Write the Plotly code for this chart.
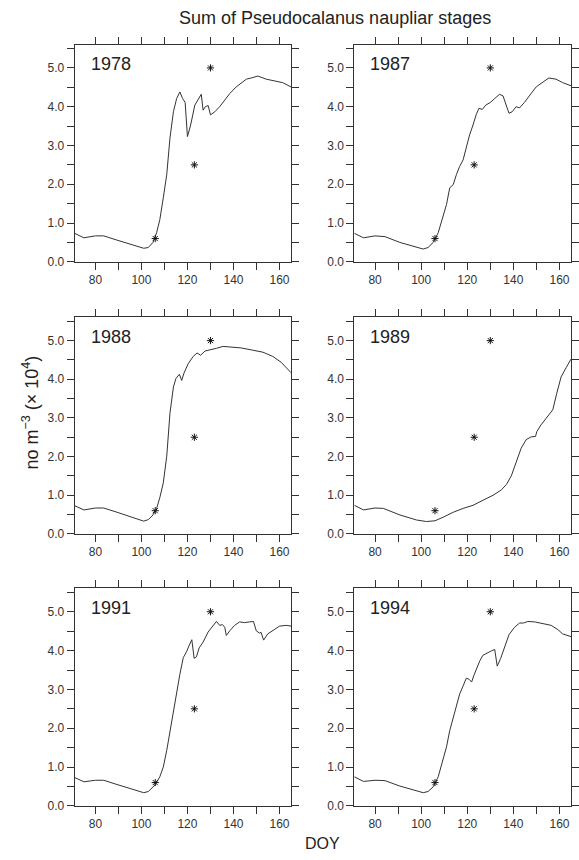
import plotly.graph_objects as go

# ---------------- data ----------------
years = ["1978", "1987", "1988", "1989", "1991", "1994"]

doy_1978 = [71, 75, 80, 83.6, 89.4, 95, 101, 103, 105, 106.6, 108, 109.5, 111, 112.4, 113.9, 115.3, 116.7, 117.9, 119, 120,
            121.4, 123.2, 124.7, 126, 126.8, 127.8, 129, 130, 131.9, 134, 136.2, 138.4, 141.2, 145.6, 147.7, 150.6, 154.2,
            158.5, 161.4, 165]
val_1978 = [0.735, 0.62, 0.67, 0.67, 0.56, 0.45, 0.35, 0.37, 0.5, 0.75, 1.09, 1.65, 2.25, 3.19, 3.87, 4.21, 4.38, 4.21, 4.11,
            3.23, 3.53, 4.04, 4.21, 4.32, 3.91, 4.0, 4.03, 3.79, 3.87, 4.0, 4.17, 4.34, 4.51, 4.71, 4.74, 4.79, 4.71, 4.66,
            4.62, 4.51]

doy_1987 = [71, 75, 80, 84.3, 90.8, 98, 100.9, 103, 105.2, 107.4, 109.5, 111, 112.4, 113.9, 115.3, 116.7, 118.2, 119.6, 121,
            122.5, 123.9, 125.1, 126.5, 128, 130, 131.9, 134, 135.5, 136.9, 138.1, 139.5, 141.2, 142.7, 144.8, 147.7, 149.9,
            152, 155.4, 158.5, 161.4, 165]
val_1987 = [0.735, 0.62, 0.67, 0.65, 0.5, 0.37, 0.33, 0.37, 0.5, 0.75, 1.14, 1.48, 1.91, 1.99, 2.25, 2.46, 2.63, 2.97, 3.27,
            3.53, 3.8, 3.96, 3.93, 4.04, 4.11, 4.21, 4.32, 4.28, 4.04, 3.83, 3.87, 4.0, 3.97, 4.11, 4.34, 4.51, 4.6, 4.74,
            4.71, 4.62, 4.54]

doy_1988 = [71, 75, 80, 83.6, 89.4, 95, 101, 103, 105, 106.6, 108, 109.5, 111, 112.4, 113.9, 115, 116.5, 117.5, 118.5, 120.3,
            122.5, 124.2, 125.7, 127.6, 130, 132.6, 135.5, 139.8, 143.4, 147.7, 152.8, 157.1, 160.7, 165]
val_1988 = [0.73, 0.62, 0.67, 0.67, 0.56, 0.44, 0.33, 0.37, 0.49, 0.66, 0.94, 1.32, 2.01, 3.12, 3.8, 4.02, 4.13, 3.97, 4.16,
            4.4, 4.59, 4.68, 4.62, 4.73, 4.76, 4.8, 4.85, 4.83, 4.81, 4.76, 4.7, 4.59, 4.44, 4.17]

doy_1989 = [71, 75, 80, 83.6, 90.8, 98, 102.3, 106, 109.5, 113.9, 118.2, 122.5, 126.8, 131.2, 134.8, 137, 139.1, 141.2, 143.4,
            145.6, 147.7, 149.6, 150.2, 152, 154.2, 155.9, 157.1, 158.8, 160.7, 162.9, 165]
val_1989 = [0.74, 0.62, 0.67, 0.66, 0.49, 0.36, 0.32, 0.34, 0.43, 0.56, 0.66, 0.74, 0.87, 1.0, 1.14, 1.28, 1.5, 1.84, 2.22,
            2.44, 2.51, 2.52, 2.65, 2.82, 2.99, 3.09, 3.21, 3.63, 4.06, 4.3, 4.52]

doy_1991 = [71, 75, 80, 83.6, 89.4, 95, 101, 103, 105.9, 108, 109.5, 111, 112.4, 113.9, 115.3, 116.7, 118.2, 119.6, 120.8,
            121.9, 122.9, 123.9, 125.1, 126.8, 129, 130.9, 132.6, 134, 135.2, 136.2, 136.9, 138.4, 140.5, 142.7, 144.8, 147,
            148.7, 149.9, 151.3, 152, 153.1, 154.9, 157.1, 160, 162.9, 165]
val_1991 = [0.73, 0.62, 0.66, 0.66, 0.55, 0.44, 0.34, 0.37, 0.54, 0.75, 1.0, 1.43, 1.94, 2.45, 2.88, 3.39, 3.82, 3.97, 4.14,
            4.28, 3.8, 3.84, 4.07, 4.22, 4.48, 4.63, 4.75, 4.65, 4.67, 4.6, 4.39, 4.51, 4.65, 4.74, 4.72, 4.74, 4.75, 4.51,
            4.45, 4.47, 4.27, 4.43, 4.51, 4.63, 4.65, 4.63]

doy_1994 = [71, 75, 80, 84.3, 90.8, 98, 100.9, 103, 105.2, 107.4, 109.5, 111, 112.4, 113.9, 115.3, 116.7, 118.2, 119.6, 120.8,
            121.9, 122.8, 123.9, 125.4, 126.8, 129, 130.4, 131.9, 133, 134.5, 136.2, 138.1, 140.5, 142.7, 144.4, 146.3, 149.2,
            152.8, 156.4, 159.3, 161.4, 165]
val_1994 = [0.75, 0.63, 0.66, 0.65, 0.51, 0.38, 0.34, 0.37, 0.49, 0.75, 1.18, 1.52, 1.94, 2.28, 2.62, 2.88, 3.09, 3.29, 3.26,
            3.19, 3.35, 3.52, 3.73, 3.88, 3.96, 3.99, 4.03, 3.6, 3.8, 4.11, 4.41, 4.6, 4.71, 4.71, 4.75, 4.74, 4.69, 4.65,
            4.54, 4.43, 4.36]

star_doy = [106, 123, 130]
star_val = [0.6, 2.5, 5.0]

x_tickvals = [80, 90, 100, 110, 120, 130, 140, 150, 160]
x_ticktext = ["80", "", "100", "", "120", "", "140", "", "160"]
y_tickvals = [0.0, 0.5, 1.0, 1.5, 2.0, 2.5, 3.0, 3.5, 4.0, 4.5, 5.0, 5.5]
y_ticktext = ["0.0", "", "1.0", "", "2.0", "", "3.0", "", "4.0", "", "5.0", ""]

series_doy = [doy_1978, doy_1987, doy_1988, doy_1989, doy_1991, doy_1994]
series_val = [val_1978, val_1987, val_1988, val_1989, val_1991, val_1994]

# ---------------- figure ----------------
W, H = 579, 860
FONT = "Liberation Sans, Arial, Helvetica, sans-serif"
AX = "#333333"

col_dom = [[74.7 / W, 291 / W], [354.3 / W, 571 / W]]
row_px = [(45, 264), (320, 538.3), (593.3, 812.5)]
row_dom = [[1 - b / H, 1 - t / H] for t, b in row_px]

fig = go.Figure()
layout = dict(
    width=W, height=H,
    margin=dict(l=0, r=0, t=0, b=0),
    paper_bgcolor="white", plot_bgcolor="white",
    showlegend=False,
    font=dict(family=FONT, size=12, color="#222222"),
)
annotations = []

for i, (yr, xd, yv) in enumerate(zip(years, series_doy, series_val)):
    r, c = divmod(i, 2)
    n = i + 1
    xa = "x" if n == 1 else f"x{n}"
    ya = "y" if n == 1 else f"y{n}"
    fig.add_trace(go.Scatter(x=xd, y=yv, mode="lines", line=dict(color="#333333", width=1),
                             xaxis=xa, yaxis=ya, hoverinfo="skip"))
    fig.add_trace(go.Scatter(x=star_doy, y=star_val, mode="markers",
                             marker=dict(symbol="asterisk-open", size=6, color="#111111",
                                         line=dict(color="#111111", width=1)),
                             xaxis=xa, yaxis=ya, hoverinfo="skip"))
    common = dict(showline=True, linecolor=AX, linewidth=1, mirror="allticks",
                  ticks="outside", ticklen=7, tickwidth=1, tickcolor=AX,
                  showgrid=False, zeroline=False,
                  tickfont=dict(family=FONT, size=12, color="#333333"))
    layout["xaxis" if n == 1 else f"xaxis{n}"] = dict(
        domain=col_dom[c], anchor=ya, range=[71, 165],
        tickmode="array", tickvals=x_tickvals, ticktext=x_ticktext, **common)
    layout["yaxis" if n == 1 else f"yaxis{n}"] = dict(
        domain=row_dom[r], anchor=xa, range=[0, 5.6],
        tickmode="array", tickvals=y_tickvals, ticktext=y_ticktext, **common)
    annotations.append(dict(x=77.0, y=5.1, xref=xa, yref=ya, text=yr, showarrow=False,
                            xanchor="left", yanchor="middle",
                            font=dict(family=FONT, size=18, color="#222222")))

annotations.append(dict(x=335 / W, y=1 - 18 / H, xref="paper", yref="paper",
                        text="Sum of Pseudocalanus naupliar stages", showarrow=False,
                        xanchor="center", yanchor="middle",
                        font=dict(family=FONT, size=18, color="#222222")))
annotations.append(dict(x=322 / W, y=1 - 850 / H, xref="paper", yref="paper",
                        text="DOY", showarrow=False, xanchor="center", yanchor="middle",
                        font=dict(family=FONT, size=16, color="#222222")))
annotations.append(dict(x=31 / W, y=1 - 416 / H, xref="paper", yref="paper",
                        text="no m<sup>\u22123</sup> (\u00d7 10<sup>4</sup>)", showarrow=False,
                        textangle=-90, xanchor="center", yanchor="middle",
                        font=dict(family=FONT, size=18, color="#222222")))
layout["annotations"] = annotations
fig.update_layout(**layout)
fig.write_html("out.html", config={"displayModeBar": False},
               post_script="document.body.style.margin='0';document.body.style.overflow='hidden';")
